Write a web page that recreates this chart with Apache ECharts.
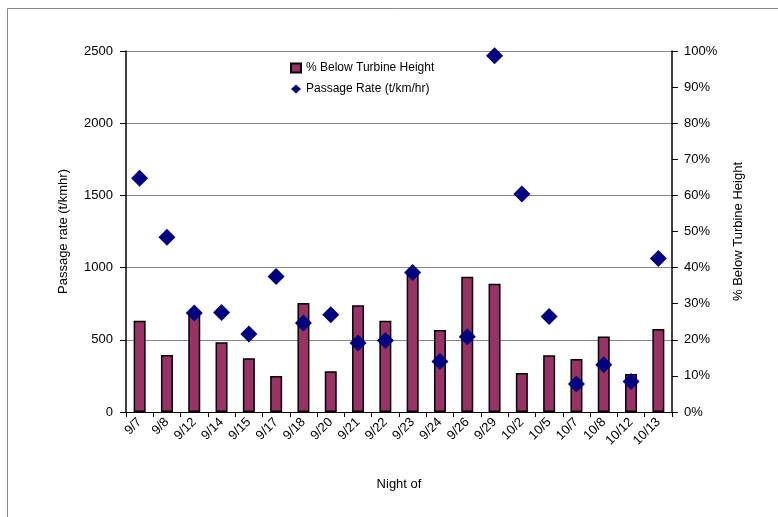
<!DOCTYPE html>
<html>
<head>
<meta charset="utf-8">
<script src="https://cdn.jsdelivr.net/npm/echarts@6/dist/echarts.min.js"></script>
<style>
  html, body { margin: 0; padding: 0; background: #fff; }
  #chart { width: 778px; height: 517px; }
</style>
</head>
<body>
<div id="chart"></div>
<script>
// nights
const nights = ['9/7', '9/8', '9/12', '9/14', '9/15', '9/17', '9/18', '9/20', '9/21', '9/22',
    '9/23', '9/24', '9/26', '9/29', '10/2', '10/5', '10/7', '10/8', '10/12', '10/13'];

// % below turbine height (bars, right axis)
const pctBelow = [25.3, 15.8, 27.5, 19.3, 14.9, 10.0, 30.2, 11.3, 29.6, 25.3,
    38.7, 22.7, 37.5, 35.5, 10.8, 15.7, 14.7, 20.9, 10.5, 23.0];

// passage rate t/km/hr (diamonds, left axis)
const passageRate = [1619, 1210, 685, 689, 540, 938, 616, 673, 477, 495,
    966, 350, 521, 2467, 1510, 661, 194, 327, 212, 1063];

const font = 'Liberation Sans, Arial, sans-serif';

const chart = echarts.init(document.getElementById('chart'));
chart.setOption({
    animation: false,
    backgroundColor: '#fff',
    textStyle: { fontFamily: font },
    graphic: [{
        type: 'rect',
        shape: { x: 7.5, y: 8.5, width: 800, height: 560 },
        style: { fill: 'none', stroke: '#888', lineWidth: 1 },
        silent: true
    }],
    legend: {
        orient: 'vertical',
        left: 285,
        top: 57,
        itemGap: 9,
        itemWidth: 10,
        itemHeight: 9,
        textStyle: { fontSize: 12, color: '#000', fontFamily: font },
        data: [
            { name: '% Below Turbine Height', icon: 'rect' },
            { name: 'Passage Rate (t/km/hr)', icon: 'diamond' }
        ]
    },
    grid: { left: 126, right: 106, top: 51, bottom: 105 },
    xAxis: {
        type: 'category',
        data: nights,
        name: 'Night of',
        nameLocation: 'middle',
        nameGap: 66,
        nameTextStyle: { fontSize: 13, color: '#000' },
        axisLine: { lineStyle: { color: '#000', width: 1 } },
        axisTick: { show: true, alignWithLabel: false, length: 5, lineStyle: { color: '#000' } },
        axisLabel: { rotate: 45, fontSize: 13, color: '#000', margin: 8, interval: 0 }
    },
    yAxis: [{
        type: 'value',
        min: 0,
        max: 2500,
        interval: 500,
        name: 'Passage rate (t/kmhr)',
        nameLocation: 'middle',
        nameGap: 56,
        nameTextStyle: { fontSize: 13, color: '#000' },
        axisLine: { show: true, lineStyle: { color: '#000', width: 1.5 } },
        axisTick: { show: true, length: 6, lineStyle: { color: '#000' } },
        axisLabel: { fontSize: 13, color: '#000', margin: 13, formatter: v => String(v) },
        splitLine: { show: true, lineStyle: { color: '#888', width: 1 } }
    }, {
        type: 'value',
        min: 0,
        max: 100,
        interval: 10,
        name: '% Below Turbine Height',
        nameLocation: 'middle',
        nameGap: 60,
        nameTextStyle: { fontSize: 13, color: '#000' },
        axisLine: { show: true, lineStyle: { color: '#000', width: 1.5 } },
        axisTick: { show: true, length: 6, lineStyle: { color: '#000' } },
        axisLabel: { fontSize: 13, color: '#000', margin: 12, formatter: '{value}%' },
        splitLine: { show: false }
    }],
    series: [{
        name: '% Below Turbine Height',
        type: 'bar',
        yAxisIndex: 1,
        data: pctBelow,
        barWidth: 12,
        itemStyle: { color: '#993366', borderColor: '#000', borderWidth: 1.5 }
    }, {
        name: 'Passage Rate (t/km/hr)',
        type: 'scatter',
        yAxisIndex: 0,
        data: passageRate,
        symbol: 'diamond',
        symbolSize: 17,
        itemStyle: { color: '#000080', opacity: 1 },
        z: 5
    }]
});
</script>
</body>
</html>
